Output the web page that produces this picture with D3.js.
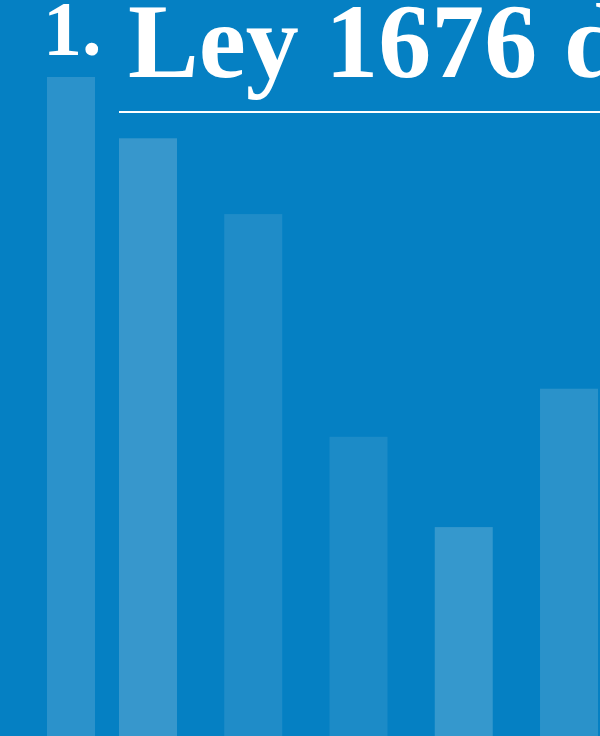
<!DOCTYPE html>
<html lang="es">
<head>
  <meta charset="UTF-8">
  <title>1. Ley 1676</title>
  <style>
    html, body { margin: 0; padding: 0; background: #0580c3; overflow: hidden; }
    svg { display: block; }
    .title { font-family: "Liberation Serif", "DejaVu Serif", serif; font-weight: bold; fill: #fff; }
  </style>
</head>
<body>
  <script src="https://cdnjs.cloudflare.com/ajax/libs/d3/7.8.5/d3.min.js"></script>
  <svg></svg>
  <script>
    var categories = ['a', 'b', 'c', 'd', 'e', 'f'];
    var values = [100, 90.7, 79.2, 45.4, 31.7, 52.7];
    var titleNumber = '1.';
    var titleText = 'Ley 1676 de 2013';

    var width = 600, height = 736;
    var barColors = ['#2b92cb', '#3797cc', '#1f8cc8', '#1c8bc7', '#3598cd', '#2a92ca'];

    var svg = d3.select('svg')
                .attr('width', width)
                .attr('height', height);

    svg.append('rect')
      .attr('width', width)
      .attr('height', height)
      .attr('fill', '#0580c3');

    // scales (step ~105px, bars 58px wide)
    var xScale = d3.scaleBand()
                    .domain(categories)
                    .range([13.75, 598])
                    .paddingInner(0.449)
                    .paddingOuter(0);
    var yScale = d3.scaleLinear()
                    .domain([0, 100])
                    .range([height, 77]);
    var color = d3.scaleOrdinal().domain(categories).range(barColors);

    // first bar is narrower and sits under the number
    svg.append('g')
      .selectAll('rect')
      .data(values)
      .enter()
      .append('rect')
        .attr('x', function(d, i) {
          return i === 0 ? xScale(categories[i]) + 33.25 : xScale(categories[i]);
        })
        .attr('y', function(d) { return yScale(d); })
        .attr('width', function(d, i) {
          return i === 0 ? 48 : xScale.bandwidth();
        })
        .attr('height', function(d) { return height - yScale(d); })
        .attr('fill', function(d, i) { return color(categories[i]); });

    // title
    svg.append('text')
      .attr('class', 'title')
      .attr('x', 43)
      .attr('y', 55)
      .style('font-size', '78px')
      .text(titleNumber);

    svg.append('text')
      .attr('class', 'title')
      .attr('x', 128)
      .attr('y', 77)
      .style('font-size', '106px')
      .text(titleText);

    svg.append('rect')
      .attr('x', 119)
      .attr('y', 111)
      .attr('width', width - 119)
      .attr('height', 2)
      .attr('fill', '#fff');
  </script>
</body>
</html>
